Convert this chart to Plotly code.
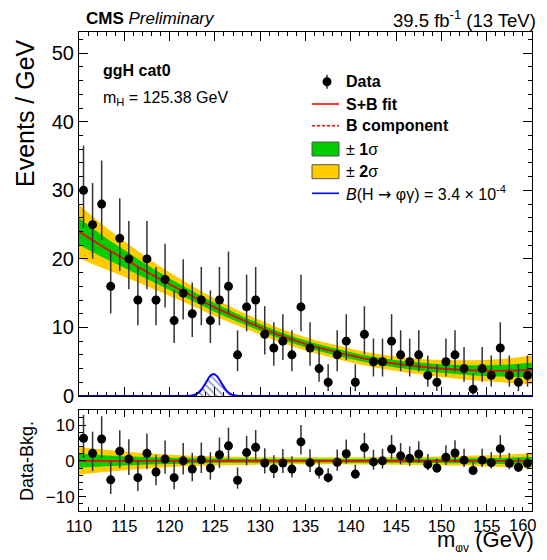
import plotly.graph_objects as go

# ---------------- data ----------------
bin_centers = [110.5 + i for i in range(50)]
data_counts = [30, 25, 28, 16, 23, 20, 14, 20, 14, 17,
               11, 15, 12, 14, 11, 14, 16, 6, 13, 14,
               9, 7, 8, 6, 13, 7, 4, 2, 6, 8,
               2, 9, 5, 5, 8, 6, 5, 6, 3, 2,
               5, 6, 4, 1, 4, 3, 7, 3, 2, 3]
residuals = [6.3, 2.1, 6.1, -5.3, 2.7, 0.5, -4.7, 2.1, -3.1, 0.5,
             -4.7, 0.0, -2.3, 0.3, -2.0, 1.7, 4.2, -5.4, 2.3, 3.8,
             -0.6, -2.2, -0.6, -2.3, 5.3, -0.5, -3.0, -4.7, -0.4, 2.0,
             -3.7, 3.7, -0.3, 0.0, 3.3, 1.4, 0.7, 1.9, -1.0, -2.0,
             1.0, 2.2, 0.2, -2.7, 0.2, -0.5, 3.4, -0.7, -1.8, -0.7]

fit_x = [110, 112.5, 115, 117.5, 120, 122.5, 125, 127.5, 130, 132.5, 135,
         137.5, 140, 142.5, 145, 147.5, 150, 152.5, 155, 157.5, 160]
fit_bkg = [24.0, 21.9, 20.0, 18.1, 16.3, 14.6, 12.9, 11.4, 10.0, 8.7, 7.6,
           6.7, 5.9, 5.2, 4.7, 4.3, 4.0, 3.8, 3.7, 3.7, 3.8]
band_1sig = [1.95, 1.6, 1.3, 1.05, 0.85, 0.72, 0.63, 0.56, 0.52, 0.5, 0.49,
             0.49, 0.5, 0.51, 0.53, 0.57, 0.62, 0.7, 0.78, 0.9, 1.05]
band_2sig = [3.9, 3.2, 2.6, 2.1, 1.72, 1.45, 1.27, 1.13, 1.04, 1.0, 0.98,
             0.98, 1.0, 1.02, 1.06, 1.14, 1.24, 1.4, 1.56, 1.8, 2.1]

sig_x = [110, 121.0, 121.5, 122, 122.5, 123, 123.5, 124, 124.5, 124.85,
         125.25, 125.75, 126.25, 126.75, 127.25, 127.75, 128.5, 129.5, 160]
sig_y = [0, 0, 0.0, 0.01, 0.07, 0.3, 0.91, 1.94, 2.94, 3.2,
         2.86, 1.83, 0.82, 0.26, 0.06, 0.01, 0, 0, 0]

x_ticks = [110, 115, 120, 125, 130, 135, 140, 145, 150, 155, 160]
x_tick_labels = ["110", "115", "120", "125", "130", "135", "140", "145", "150", "155", ""]
last_tick_label = "160"  # drawn as an annotation, anchored to the page's right edge

# Poisson (Garwood, 68%) uncertainties on the observed counts
def poisson_lo(n):
    if n == 0:
        return 0.0
    return n * (1 - 1 / (9 * n) - 1 / (3 * n ** 0.5)) ** 3

def poisson_hi(n):
    m = n + 1
    return m * (1 - 1 / (9 * m) + 1 / (3 * m ** 0.5)) ** 3

err_minus = [n - poisson_lo(n) for n in data_counts]
err_plus = [poisson_hi(n) - n for n in data_counts]

# ---------------- styling / layout helpers ----------------
OFF = 8  # default page body margin; the page is then exactly 547 x 560
W, H = 547 - 2 * OFF, 560 - 2 * OFF
L, R, T, B = 79 - OFF, 532 - OFF, 32 - OFF, 511 - OFF
FONT = "Liberation Sans, Arial, Helvetica, sans-serif"
YELLOW = "#ffcc00"
GREEN = "#00cc00"

def px(xp):  # xp in page pixels
    return (xp - OFF - L) / (R - L)

def py(yp):
    return (B - (yp - OFF)) / (B - T)

fig = go.Figure()

def add_bands(center, xa, ya):
    for width, col in ((band_2sig, YELLOW), (band_1sig, GREEN)):
        lo = [c - w for c, w in zip(center, width)]
        hi = [c + w for c, w in zip(center, width)]
        fig.add_trace(go.Scatter(x=fit_x, y=lo, mode="lines", line=dict(width=0, shape="spline"),
                                 xaxis=xa, yaxis=ya, hoverinfo="skip", showlegend=False))
        fig.add_trace(go.Scatter(x=fit_x, y=hi, mode="lines", line=dict(width=0, shape="spline"),
                                 fill="tonexty", fillcolor=col,
                                 xaxis=xa, yaxis=ya, hoverinfo="skip", showlegend=False))

# main panel
add_bands(fit_bkg, "x", "y")
fig.add_trace(go.Scatter(x=fit_x, y=fit_bkg, mode="lines",
                         line=dict(color="#ff0000", width=1.6, shape="spline"),
                         xaxis="x", yaxis="y", showlegend=False))
fig.add_trace(go.Scatter(x=fit_x, y=fit_bkg, mode="lines",
                         line=dict(color="#ff0000", width=1.6, dash="3px,2px", shape="spline"),
                         xaxis="x", yaxis="y", showlegend=False))
fig.add_trace(go.Scatter(x=sig_x, y=sig_y, mode="lines",
                         line=dict(color="#0000ff", width=2, shape="spline", smoothing=0.8),
                         fill="tozeroy", fillcolor="rgba(255,255,255,0)",
                         fillpattern=dict(shape="\\", fgcolor="#8080c0", fgopacity=0.9,
                                          bgcolor="rgba(255,255,255,0)", size=5, solidity=0.3),
                         xaxis="x", yaxis="y", showlegend=False))
fig.add_trace(go.Scatter(x=bin_centers, y=data_counts, mode="markers",
                         marker=dict(color="black", size=9),
                         error_y=dict(type="data", symmetric=False, array=err_plus,
                                      arrayminus=err_minus, color="#333333",
                                      thickness=1.5, width=0),
                         xaxis="x", yaxis="y", showlegend=False))

# ratio panel
zeros = [0.0 for _ in fit_x]
add_bands(zeros, "x2", "y2")
fig.add_trace(go.Scatter(x=fit_x, y=zeros, mode="lines",
                         line=dict(color="#ff0000", width=1.8),
                         xaxis="x2", yaxis="y2", showlegend=False))
fig.add_trace(go.Scatter(x=bin_centers, y=residuals, mode="markers",
                         marker=dict(color="black", size=9),
                         error_y=dict(type="data", symmetric=False, array=err_plus,
                                      arrayminus=err_minus, color="#333333",
                                      thickness=1.5, width=0),
                         xaxis="x2", yaxis="y2", showlegend=False))

main_bottom = py(396)
ratio_top = py(410)

axis_common = dict(showline=True, linecolor="black", linewidth=1, mirror="allticks",
                   ticks="inside", tickcolor="black", showgrid=False, zeroline=False)

XTICK_SIZE = 16.5

fig.update_layout(
    width=W, height=H,
    margin=dict(l=L, r=W - R, t=T, b=H - B),
    paper_bgcolor="white", plot_bgcolor="white",
    font=dict(family=FONT, color="black"),
    showlegend=False,
    xaxis=dict(domain=[0, 1], range=[110, 160], anchor="y", matches="x2",
               tickvals=x_ticks, showticklabels=False, ticklen=9,
               minor=dict(dtick=1, ticks="inside", ticklen=4, tickcolor="black", showgrid=False),
               **axis_common),
    yaxis=dict(domain=[main_bottom, 1], range=[0, 53.1], anchor="x",
               dtick=10, ticklen=9, tickfont=dict(size=20),
               minor=dict(dtick=2, ticks="inside", ticklen=4, tickcolor="black", showgrid=False),
               **axis_common),
    xaxis2=dict(domain=[0, 1], range=[110, 160], anchor="y2",
                tickvals=x_ticks, ticktext=x_tick_labels, ticklen=7,
                tickfont=dict(size=XTICK_SIZE),
                minor=dict(dtick=1, ticks="inside", ticklen=4, tickcolor="black", showgrid=False),
                **axis_common),
    yaxis2=dict(domain=[0, ratio_top], range=[-14, 14.2], anchor="x2",
                tickvals=[-10, 0, 10], ticktext=["\u221210", "0", "10"], ticklen=7,
                tickfont=dict(size=17),
                minor=dict(dtick=2, ticks="inside", ticklen=4, tickcolor="black", showgrid=False),
                **axis_common),
)

ann = []
def text(xp, yp, s, size, xanchor="left", yanchor="middle", angle=0):
    ann.append(dict(x=px(xp), y=py(yp), xref="paper", yref="paper", text=s,
                    showarrow=False, xanchor=xanchor, yanchor=yanchor, textangle=angle,
                    font=dict(size=size, family=FONT, color="black")))

text(84, 19, "<b>CMS</b> <i>Preliminary</i>", 17)
text(538, 19, "39.5 fb<sup>-1</sup> (13 TeV)", 18.5, xanchor="right")
text(101, 70, "<b>ggH cat0</b>", 16)
text(101, 98, "m<sub>H</sub> = 125.38 GeV", 16)
text(25, 113, "Events / GeV", 25, xanchor="center", angle=-90)
text(27, 461, "Data-Bkg.", 18, xanchor="center", angle=-90)
text(536, 541, 'm<sub><span style="font-size:12px">\u03c6\u03b3</span></sub> (GeV)', 22, xanchor="right")
text(539, 525, last_tick_label, XTICK_SIZE, xanchor="right")

# legend
rows = [81.7, 104, 125.7, 149, 171.7, 193.3]
labels = ["<b>Data</b>", "<b>S+B fit</b>", "<b>B component</b>",
          "\u00b1 <b>1</b>\u03c3", "\u00b1 <b>2</b>\u03c3",
          '<i>B</i>(H <span style="font-family:DejaVu Sans">\u2192</span> \u03c6\u03b3) = 3.4 \u00d7 10<sup>-4</sup>']
for yv, lab in zip(rows, labels):
    text(344, yv, lab, 16)

shapes = []
def seg(x0, y0, x1, y1, color, width=1.5, dash="solid"):
    shapes.append(dict(type="line", xref="paper", yref="paper", x0=px(x0), y0=py(y0),
                       x1=px(x1), y1=py(y1), line=dict(color=color, width=width, dash=dash)))

seg(327, rows[0] - 7, 327, rows[0] + 7, "#333333", 1.5)
shapes.append(dict(type="circle", xref="paper", yref="paper",
                   x0=px(322.5), x1=px(331.5), y0=py(rows[0] + 4.5), y1=py(rows[0] - 4.5),
                   fillcolor="black", line=dict(color="black", width=0)))
seg(312, rows[1], 339, rows[1], "#ff0000", 1.6)
seg(312, rows[2], 339, rows[2], "#ff0000", 1.6, "3px,2px")
for yv, col in ((rows[3], GREEN), (rows[4], YELLOW)):
    shapes.append(dict(type="rect", xref="paper", yref="paper",
                       x0=px(312), x1=px(339), y0=py(yv + 7), y1=py(yv - 7),
                       fillcolor=col, line=dict(color="#555555", width=1)))
seg(312, rows[5], 339, rows[5], "#0000ff", 1.6)

fig.update_layout(annotations=ann, shapes=shapes)
fig.write_html("out.html", config={"displayModeBar": False})
